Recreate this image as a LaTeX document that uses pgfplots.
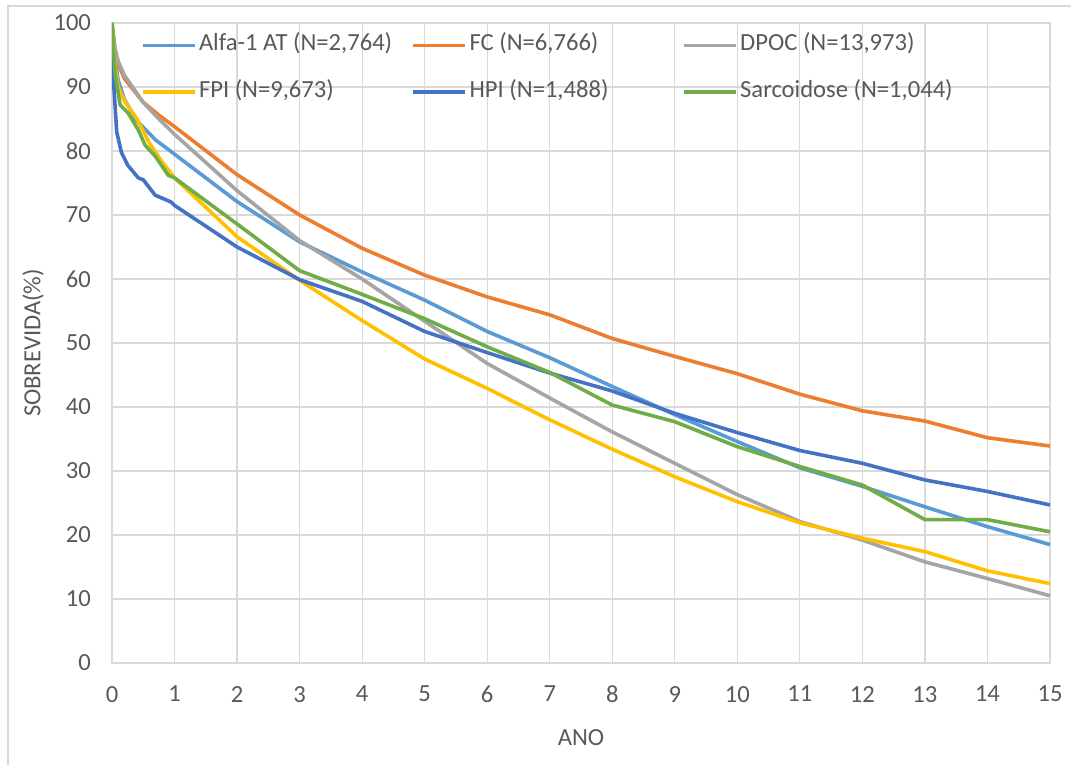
\documentclass[border=0pt]{standalone}
\usepackage{fontspec}
\setmainfont{Carlito}
\usepackage{pgfplots}
\pgfplotsset{compat=1.18}
\definecolor{cAlfa}{HTML}{5B9BD5}
\definecolor{cFC}{HTML}{ED7D31}
\definecolor{cDPOC}{HTML}{A5A5A5}
\definecolor{cFPI}{HTML}{FFC000}
\definecolor{cHPI}{HTML}{4472C4}
\definecolor{cSarc}{HTML}{70AD47}
\definecolor{gridgray}{HTML}{D9D9D9}
\definecolor{txtgray}{HTML}{595959}
\begin{document}
\begin{tikzpicture}
\useasboundingbox (0,0) rectangle (535.5pt,382.5pt);
\fill[white] (0,0) rectangle (535.5pt,382.5pt);
\draw[gridgray, line width=0.6pt] (4pt,0pt) -- (4pt,379.5pt) -- (535.5pt,379.5pt);
\begin{axis}[
  scale only axis,
  width=469pt, height=320pt,
  at={(56pt,51pt)}, anchor=south west,
  xmin=0, xmax=15, ymin=0, ymax=100,
  xtick={0,1,...,15}, ytick={0,10,...,100},
  grid=major,
  major grid style={gridgray, line width=0.6pt},
  axis line style={gridgray, line width=0.6pt},
  major tick length=0pt,
  tick label style={font=\fontsize{12.3}{14}\selectfont, text=txtgray},
  /pgf/number format/assume math mode=true,
  yticklabel style={xshift=-7pt},
  xticklabel style={yshift=-8pt},
  xlabel={ANO},
  ylabel={SOBREVIDA(\%)},
  every axis x label/.style={at={(axis description cs:0.5,0)}, anchor=north, yshift=-29.5pt, font=\fontsize{12.3}{14}\selectfont, text=txtgray},
  every axis y label/.style={at={(axis description cs:0,0.5)}, anchor=center, rotate=90, yshift=39.5pt, font=\fontsize{12.3}{14}\selectfont, text=txtgray},
  legend columns=3,
  legend cell align=left,
  legend image code/.code={\draw[#1, line width=1.8pt] (0pt,0pt) -- (26pt,0pt);},
  legend style={draw=none, fill=none, at={(axis description cs:0,1)}, anchor=north west,
    xshift=14.25pt, yshift=-4pt, inner xsep=0pt, inner ysep=0pt,
    font=\fontsize{12.3}{14}\selectfont, text=txtgray,
    nodes={inner sep=1.25pt, text height=8.5pt, text depth=3pt},
    /tikz/column sep=0pt, /tikz/row sep=9.3pt},
  every axis plot/.append style={line width=1.8pt, line join=round},
]
\addplot[cAlfa] coordinates {(0,100)(0.05,94)(0.1,91)(0.2,88)(0.4,84.7)(0.7,81.7)(1,79.5)(2,72.1)(3,65.8)(4,61.1)(5,56.7)(6,51.8)(7,47.7)(8,43.2)(9,38.8)(10,34.6)(11,30.5)(12,27.6)(13,24.4)(14,21.3)(15,18.5)};
\addlegendentry{\makebox[105pt][l]{Alfa-1 AT (N=2,764)}}
\addplot[cFC] coordinates {(0,100)(0.05,95.5)(0.1,93.5)(0.2,91.3)(0.5,87.6)(0.75,85.6)(1,83.8)(2,76.3)(3,70.0)(4,64.8)(5,60.6)(6,57.2)(7,54.4)(8,50.7)(9,47.9)(10,45.2)(11,42.0)(12,39.4)(13,37.8)(14,35.2)(15,33.9)};
\addlegendentry{\makebox[105pt][l]{FC (N=6,766)}}
\addplot[cDPOC] coordinates {(0,100)(0.05,96)(0.1,94)(0.2,91.8)(0.5,87.6)(0.75,85)(1,82.6)(2,73.8)(3,66.0)(4,60.0)(5,53.4)(6,46.8)(7,41.4)(8,36.1)(9,31.2)(10,26.3)(11,22.1)(12,19.2)(13,15.8)(14,13.2)(15,10.5)};
\addlegendentry{\makebox[105pt][l]{DPOC (N=13,973)}}
\addplot[cFPI] coordinates {(0,100)(0.05,93)(0.1,90)(0.2,87.8)(0.4,85)(0.6,81.2)(0.8,78.3)(1,75.8)(2,66.6)(3,59.8)(4,53.5)(5,47.5)(6,42.9)(7,38.0)(8,33.4)(9,29.1)(10,25.2)(11,21.9)(12,19.5)(13,17.4)(14,14.4)(15,12.4)};
\addlegendentry{\makebox[105pt][l]{FPI (N=9,673)}}
\addplot[cHPI] coordinates {(0,100)(0.03,90)(0.075,83)(0.15,79.8)(0.25,77.8)(0.42,75.8)(0.5,75.5)(0.69,73.1)(0.95,72)(1,71.5)(2,65.0)(3,59.9)(4,56.5)(5,51.8)(6,48.5)(7,45.3)(8,42.5)(9,39.0)(10,36.0)(11,33.2)(12,31.2)(13,28.6)(14,26.8)(15,24.7)};
\addlegendentry{\makebox[105pt][l]{HPI (N=1,488)}}
\addplot[cSarc] coordinates {(0,100)(0.05,92)(0.13,87.2)(0.26,85.9)(0.42,83.3)(0.53,80.9)(0.69,79.2)(0.9,76.2)(1,75.8)(2,68.6)(3,61.3)(4,57.6)(5,53.8)(6,49.4)(7,45.4)(8,40.3)(9,37.7)(10,33.8)(11,30.7)(12,27.8)(13,22.4)(14,22.4)(15,20.5)};
\addlegendentry{\makebox[105pt][l]{Sarcoidose (N=1,044)}}
\end{axis}
\end{tikzpicture}
\end{document}
